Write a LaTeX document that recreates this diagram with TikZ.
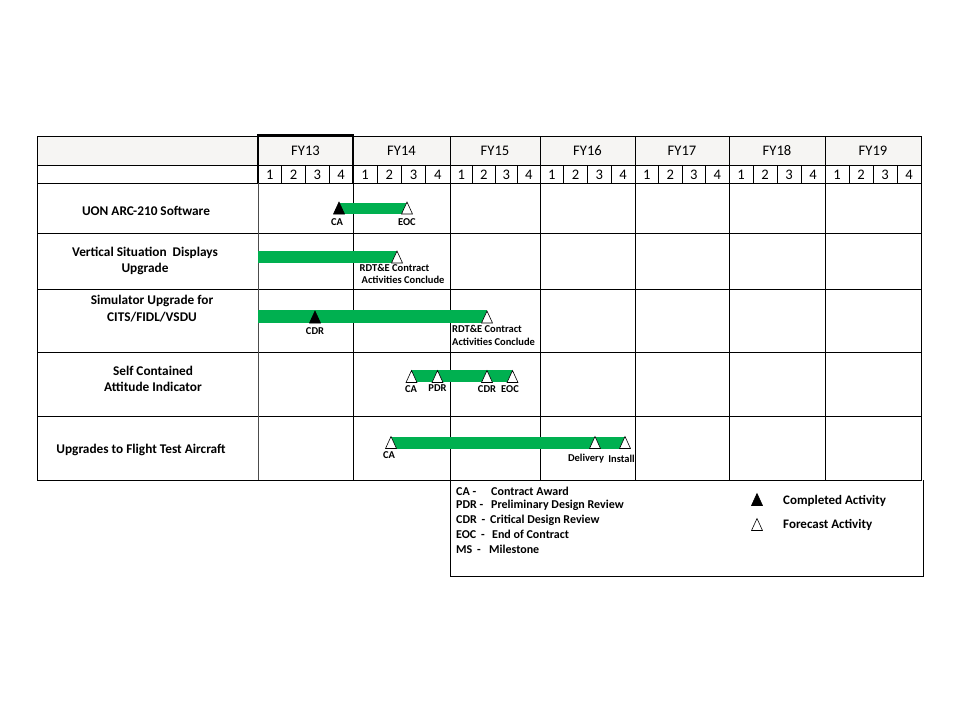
\documentclass[tikz,border=0pt]{standalone}
\usepackage{fontspec}
\setmainfont{Carlito}

\definecolor{barGreen}{HTML}{00B050}
\definecolor{headGray}{HTML}{F6F5F3}

% milestone triangles: x, y of the base
\newcommand{\msdone}[2]{\filldraw[black, line width=0.6pt] (#1-5.5,#2) -- (#1+5.5,#2) -- (#1,#2-12) -- cycle;}
\newcommand{\msopen}[2]{\filldraw[fill=white, draw=black, line width=0.6pt] (#1-5.5,#2) -- (#1+5.5,#2) -- (#1,#2-12) -- cycle;}

\tikzset{
  gridline/.style={black, line width=0.8pt},
  bar/.style={fill=barGreen, draw=none},
  rowlabel/.style={font=\fontsize{13.3}{16.5}\selectfont\bfseries, align=center, inner sep=0pt},
  fylabel/.style={font=\fontsize{14.6}{16}\selectfont, inner sep=0pt},
  qlabel/.style={font=\fontsize{14.6}{16}\selectfont, inner sep=0pt},
  mslabel/.style={font=\fontsize{10.5}{12.2}\selectfont\bfseries, inner sep=0pt},
  legendtext/.style={font=\fontsize{12}{14}\selectfont\bfseries, inner sep=0pt, anchor=west},
  legendkey/.style={font=\fontsize{13}{15}\selectfont\bfseries, inner sep=0pt, anchor=west},
}

\begin{document}
\begin{tikzpicture}[x=1pt, y=-1pt]
  \useasboundingbox (0,0) rectangle (960,720);

  % header
  \fill[headGray] (37,136) rectangle (921,165);
  \draw[gridline] (37,136) rectangle (921,480);
  \foreach \yy in {165,183,233,289,352,416}
    \draw[gridline] (37,\yy) -- (921,\yy);
  \draw[gridline, black!70] (258,136) -- (258,480);
  \foreach \yr/\xa/\xb in {13/258/353,14/353/450,15/450/540,16/540/635,17/635/729,18/729/825,19/825/921} {
    \node[fylabel] (fy\yr) at ({(\xa+\xb)/2},151) {FY\yr};
    \foreach \q in {1,2,3}
      \draw[gridline] ({\xa+\q*(\xb-\xa)/4},165) -- ++(0,18);
    \foreach \q in {1,...,4}
      \node[qlabel] (q\yr-\q) at ({\xa+(\q-0.5)*(\xb-\xa)/4},174.5) {\q};
    \draw[gridline] (\xb,136) -- (\xb,480);
  }
  \draw[line width=1.5pt] (258,183) -- (258,135) -- (353,135) -- (353,183);

  % row titles
  \node[rowlabel] (uon) at (146,211) {UON ARC-210 Software};
  \node[rowlabel] (vsd) at (145,261) {Vertical Situation\ \ Displays\\Upgrade};
  \node[rowlabel] (sim) at (152,308.5) {Simulator\ Upgrade for\\CITS/FIDL/VSDU};
  \node[rowlabel] (scai) at (153,379) {Self Contained\\Attitude Indicator};
  \node[rowlabel] (uft) at (141,450) {Upgrades to Flight Test\ Aircraft};

  % bars
  \fill[bar] (339,202.5) rectangle (407,213.5);
  \fill[bar] (258,250.5) rectangle (397,263);
  \fill[bar] (258,310) rectangle (487,323);
  \fill[bar] (411,370) rectangle (512,382);
  \fill[bar] (391,437) rectangle (626,448.5);

  % row 1
  \msdone{339}{214}
  \msopen{407}{214}
  \node[mslabel] (ca1) at (337,222.5) {CA};
  \node[mslabel] (eoc1) at (407,222.5) {EOC};

  % row 2
  \msopen{397}{263}
  \node[mslabel, anchor=north west, align=left] (rdt2) at (359.5,264) {RDT\&E Contract\\\hspace{2pt}Activities Conclude};

  % row 3
  \msdone{315}{323}
  \msopen{487}{323}
  \node[mslabel] (cdr3) at (315,331) {CDR};
  \node[mslabel, anchor=north west, align=left] (rdt3) at (452,325.5) {RDT\&E Contract\\Activities Conclude};

  % row 4
  \msopen{411.5}{382.5}
  \msopen{437.5}{382.5}
  \msopen{487}{382.5}
  \msopen{512.5}{382.5}
  \node[mslabel] (ca4) at (411,389) {CA};
  \node[mslabel] (pdr4) at (437.5,388) {PDR};
  \node[mslabel] (cdr4) at (487,389) {CDR};
  \node[mslabel] (eoc4) at (510,389) {EOC};

  % row 5
  \msopen{391}{448.5}
  \msopen{595}{448.5}
  \msopen{625}{448.5}
  \node[mslabel] (ca5) at (389,455) {CA};
  \node[mslabel] (del5) at (586,458.5) {Delivery};
  \node[mslabel] (ins5) at (621.5,458.5) {Install};

  % legend
  \draw[gridline] (450,480) -- (450,576) -- (923,576) -- (923,480);
  \node[legendtext] (lca) at (456,491) {\makebox[35pt][l]{CA -}Contract Award};
  \node[legendtext] (lpdr) at (456,505.5) {\makebox[35pt][l]{PDR -}Preliminary\ Design Review};
  \node[legendtext] (lcdr) at (456,520) {\makebox[34pt][l]{CDR\ \,-}Critical Design Review};
  \node[legendtext] (leoc) at (456,534.5) {\makebox[36pt][l]{EOC\ \,-}End of Contract};
  \node[legendtext] (lms) at (456,549) {\makebox[33pt][l]{MS\ \,-}Milestone};
  \msdone{757}{505.5}
  \msopen{757}{530.5}
  \node[legendkey] (ldone) at (783,501) {Completed Activity};
  \node[legendkey] (lfcst) at (783,525) {Forecast\ Activity};
\end{tikzpicture}
\end{document}
